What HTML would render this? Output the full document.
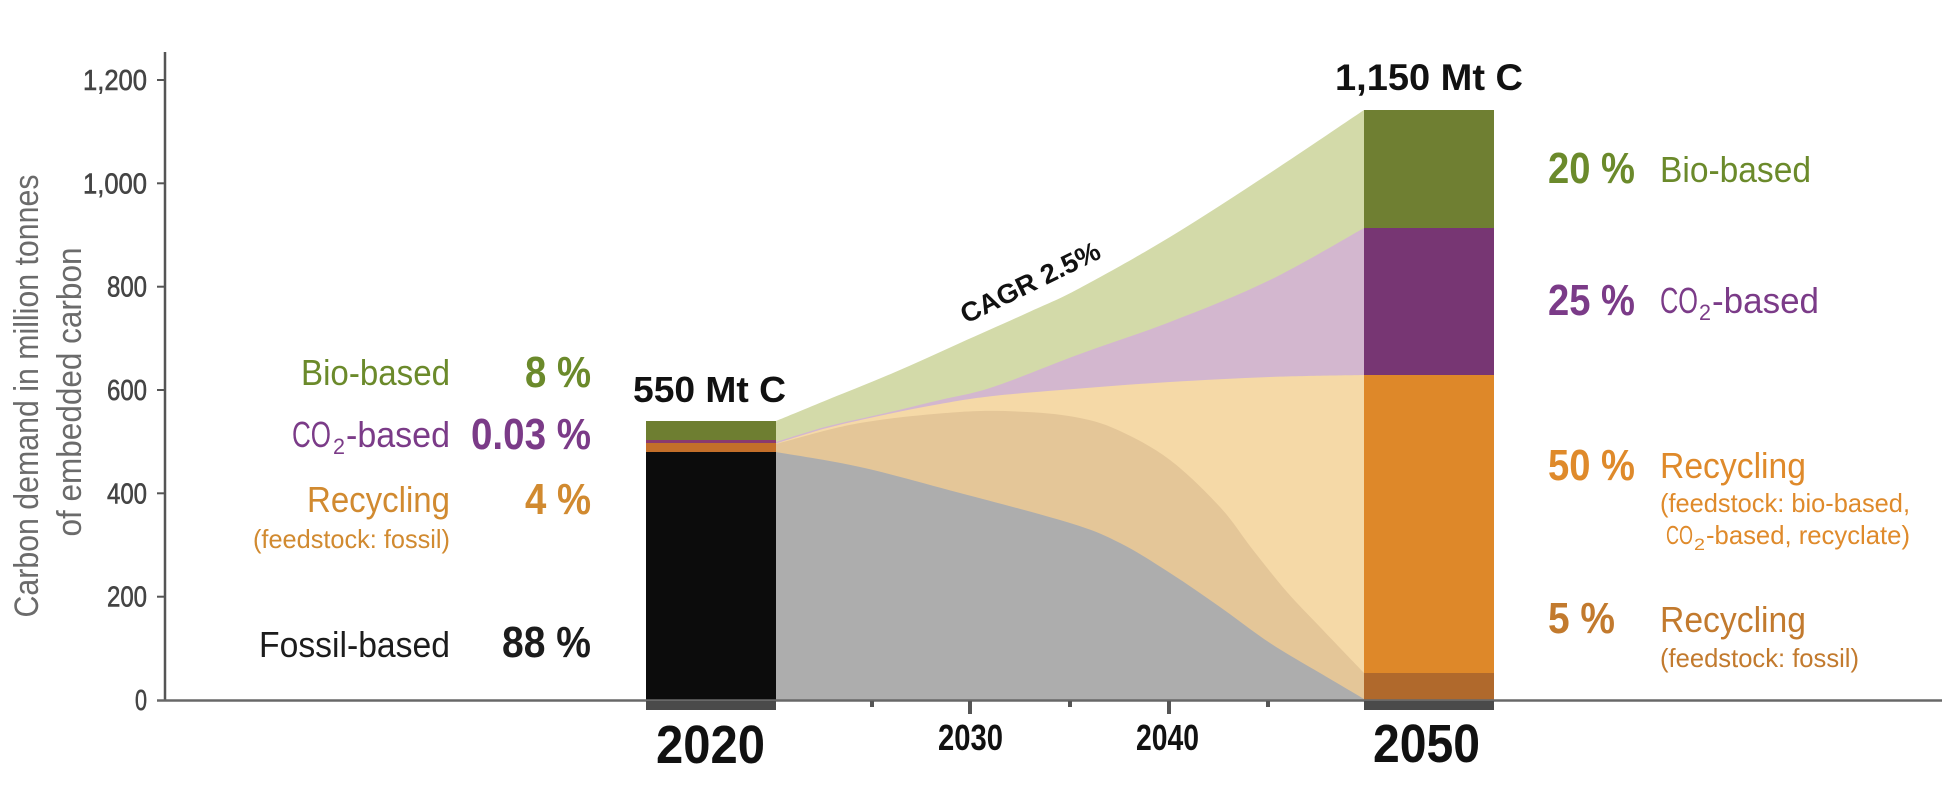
<!DOCTYPE html>
<html>
<head>
<meta charset="utf-8">
<style>
  html, body { margin: 0; padding: 0; background: #ffffff; }
  svg { display: block; }
  text { font-family: "Liberation Sans", Arial, sans-serif; }
</style>
</head>
<body>
<svg width="1956" height="798" viewBox="0 0 1956 798" xmlns="http://www.w3.org/2000/svg">
  <rect x="0" y="0" width="1956" height="798" fill="#ffffff"/>

  <!-- Flows -->
  <path fill="#d3daa9" d="M776,421 C784.5,417.5 807.5,408 827,400 C846.5,392 870.8,382.5 893,373 C915.2,363.5 937.7,353 960,343 C982.3,333 1007,322.2 1027,313 C1047,303.8 1056.2,300.7 1080,288 C1103.8,275.3 1138.3,256.2 1170,237 C1201.7,217.8 1237.7,194.2 1270,173 C1302.3,151.8 1348.3,120.5 1364,110 L1364,700 L776,700 Z"/>
  <path fill="#d3b7cf" d="M776,442 C784.5,439.4 808.7,431.3 827,426.5 C845.3,421.7 867.2,417.4 886,413 C904.8,408.6 922.2,404.3 940,400 C957.8,395.7 969.7,394.7 993,387 C1016.3,379.3 1050.5,364.8 1080,354 C1109.5,343.2 1138.3,334.3 1170,322 C1201.7,309.7 1237.7,295.7 1270,280 C1302.3,264.3 1348.3,236.7 1364,228 L1364,700 L776,700 Z"/>
  <path fill="#f5d9a7" d="M776,443.5 C784.5,440.9 808.7,432.8 827,428 C845.3,423.2 867.2,418.5 886,414.5 C904.8,410.5 922.2,407.1 940,404 C957.8,400.9 969.7,398.6 993,396 C1016.3,393.4 1050.5,390.8 1080,388.5 C1109.5,386.2 1138.3,383.9 1170,382 C1201.7,380.1 1237.7,378.2 1270,377 C1302.3,375.8 1348.3,375.3 1364,375 L1364,700 L776,700 Z"/>
  <path fill="#e4c698" d="M776,444 C790,440.5 829.3,428.3 860,423 C890.7,417.7 932.2,413.8 960,412 C987.8,410.2 1007,411 1027,412 C1047,413 1064.5,414.8 1080,418 C1095.5,421.2 1105,424 1120,431 C1135,438 1153.3,447.3 1170,460 C1186.7,472.7 1206.2,492 1220,507 C1233.8,522 1241.8,535.8 1253,550 C1264.2,564.2 1275.8,579.2 1287,592 C1298.2,604.8 1307.2,613.5 1320,627 C1332.8,640.5 1356.7,665.3 1364,673 L1364,700 L776,700 Z"/>
  <path fill="#adadad" d="M776,452 C790,454.5 829.3,460.2 860,467 C890.7,473.8 925,483.7 960,493 C995,502.3 1043.3,514.7 1070,523 C1096.7,531.3 1103.3,534.7 1120,543 C1136.7,551.3 1153.3,562.3 1170,573 C1186.7,583.7 1203.3,595.3 1220,607 C1236.7,618.7 1253.3,632 1270,643 C1286.7,654 1304.3,663.8 1320,673 C1335.7,682.2 1356.7,694.7 1364,699 L1364,700 L776,700 Z"/>

  <!-- Bars 2020 -->
  <rect x="646" y="421" width="130" height="19" fill="#6e7e31"/>
  <rect x="646" y="440" width="130" height="3" fill="#8a3a6e"/>
  <rect x="646" y="443" width="130" height="9" fill="#c36f2a"/>
  <rect x="646" y="452" width="130" height="248" fill="#0c0c0c"/>

  <!-- Bars 2050 -->
  <rect x="1364" y="110" width="130" height="118" fill="#6f7f32"/>
  <rect x="1364" y="228" width="130" height="147" fill="#773673"/>
  <rect x="1364" y="375" width="130" height="298" fill="#de8829"/>
  <rect x="1364" y="673" width="130" height="27" fill="#b0692c"/>

  <!-- Axes -->
  <line x1="165" y1="52" x2="165" y2="701" stroke="#555555" stroke-width="2.5"/>
  <line x1="157" y1="700.5" x2="1942" y2="700.5" stroke="#686868" stroke-width="2.5"/>

  <g stroke="#555555" stroke-width="2">
    <line x1="157" y1="80" x2="165" y2="80"/>
    <line x1="157" y1="183.3" x2="165" y2="183.3"/>
    <line x1="157" y1="286.7" x2="165" y2="286.7"/>
    <line x1="157" y1="390" x2="165" y2="390"/>
    <line x1="157" y1="493.3" x2="165" y2="493.3"/>
    <line x1="157" y1="596.7" x2="165" y2="596.7"/>
  </g>

  <rect x="646" y="701" width="130" height="9" fill="#4a4a4a"/>
  <rect x="1364" y="701" width="130" height="9" fill="#4a4a4a"/>

  <g fill="#555555">
    <rect x="870" y="701" width="4" height="6"/>
    <rect x="968" y="701" width="4" height="13"/>
    <rect x="1068" y="701" width="4" height="6"/>
    <rect x="1167" y="701" width="4" height="13"/>
    <rect x="1266" y="701" width="4" height="6"/>
  </g>

  <!-- y tick labels -->
  <g font-size="29" fill="#444444" stroke="#444444" stroke-width="0.6">
    <text x="83" y="90" textLength="64" lengthAdjust="spacingAndGlyphs">1,200</text>
    <text x="83" y="193.3" textLength="64" lengthAdjust="spacingAndGlyphs">1,000</text>
    <text x="107" y="296.7" textLength="40" lengthAdjust="spacingAndGlyphs">800</text>
    <text x="107" y="400" textLength="40" lengthAdjust="spacingAndGlyphs">600</text>
    <text x="107" y="503.3" textLength="40" lengthAdjust="spacingAndGlyphs">400</text>
    <text x="107" y="606.7" textLength="40" lengthAdjust="spacingAndGlyphs">200</text>
    <text x="135" y="710" textLength="12" lengthAdjust="spacingAndGlyphs">0</text>
  </g>

  <!-- y axis title -->
  <text transform="translate(38,396) rotate(-90)" text-anchor="middle" font-size="34" fill="#6b6b6b" textLength="443" lengthAdjust="spacingAndGlyphs">Carbon demand in million tonnes</text>
  <text transform="translate(81,392) rotate(-90)" text-anchor="middle" font-size="34" fill="#6b6b6b" textLength="289" lengthAdjust="spacingAndGlyphs">of embedded carbon</text>

  <!-- x year labels -->
  <text x="656" y="763" font-size="54" font-weight="bold" fill="#111111" textLength="109" lengthAdjust="spacingAndGlyphs">2020</text>
  <text x="938" y="750" font-size="36" font-weight="bold" fill="#111111" textLength="65" lengthAdjust="spacingAndGlyphs">2030</text>
  <text x="1136" y="750" font-size="36" font-weight="bold" fill="#111111" textLength="63" lengthAdjust="spacingAndGlyphs">2040</text>
  <text x="1373" y="762" font-size="54" font-weight="bold" fill="#111111" textLength="107" lengthAdjust="spacingAndGlyphs">2050</text>

  <!-- totals -->
  <text x="633" y="402" font-size="36" font-weight="bold" fill="#111111" textLength="153" lengthAdjust="spacingAndGlyphs">550 Mt C</text>
  <text x="1335" y="90" font-size="37" font-weight="bold" fill="#111111" textLength="188" lengthAdjust="spacingAndGlyphs">1,150 Mt C</text>

  <!-- CAGR -->
  <text transform="translate(966,324) rotate(-26)" font-size="27" font-weight="bold" fill="#111111" textLength="152" lengthAdjust="spacingAndGlyphs">CAGR 2.5%</text>

  <!-- Left labels -->
  <text x="301" y="385" font-size="36" fill="#6b8a2b" textLength="149" lengthAdjust="spacingAndGlyphs">Bio-based</text>
  <text x="525" y="387" font-size="44" font-weight="bold" fill="#6b8a2b" textLength="66" lengthAdjust="spacingAndGlyphs">8 %</text>

  <text x="292" y="447" font-size="36" fill="#7b3b88" textLength="39" lengthAdjust="spacingAndGlyphs">CO</text>
  <text x="333" y="454" font-size="22" fill="#7b3b88" textLength="12" lengthAdjust="spacingAndGlyphs">2</text>
  <text x="346" y="447" font-size="36" fill="#7b3b88" textLength="104" lengthAdjust="spacingAndGlyphs">-based</text>
  <text x="471" y="449" font-size="44" font-weight="bold" fill="#7b3b88" textLength="120" lengthAdjust="spacingAndGlyphs">0.03 %</text>

  <text x="307" y="512" font-size="36" fill="#d18a30" textLength="143" lengthAdjust="spacingAndGlyphs">Recycling</text>
  <text x="525" y="514" font-size="44" font-weight="bold" fill="#d18a30" textLength="66" lengthAdjust="spacingAndGlyphs">4 %</text>
  <text x="253" y="548" font-size="26" fill="#d18a30" textLength="197" lengthAdjust="spacingAndGlyphs">(feedstock: fossil)</text>

  <text x="259" y="657" font-size="36" fill="#1c1c1c" textLength="191" lengthAdjust="spacingAndGlyphs">Fossil-based</text>
  <text x="502" y="657" font-size="44" font-weight="bold" fill="#1c1c1c" textLength="89" lengthAdjust="spacingAndGlyphs">88 %</text>

  <!-- Right labels -->
  <text x="1548" y="183" font-size="44" font-weight="bold" fill="#6b8a2b" textLength="87" lengthAdjust="spacingAndGlyphs">20 %</text>
  <text x="1660" y="182" font-size="36" fill="#6b8a2b" textLength="151" lengthAdjust="spacingAndGlyphs">Bio-based</text>

  <text x="1548" y="315" font-size="44" font-weight="bold" fill="#7b3b88" textLength="87" lengthAdjust="spacingAndGlyphs">25 %</text>
  <text x="1660" y="313" font-size="36" fill="#7b3b88" textLength="38" lengthAdjust="spacingAndGlyphs">CO</text>
  <text x="1699" y="320" font-size="22" fill="#7b3b88" textLength="12" lengthAdjust="spacingAndGlyphs">2</text>
  <text x="1712" y="313" font-size="36" fill="#7b3b88" textLength="107" lengthAdjust="spacingAndGlyphs">-based</text>

  <text x="1548" y="480" font-size="44" font-weight="bold" fill="#df8a2b" textLength="87" lengthAdjust="spacingAndGlyphs">50 %</text>
  <text x="1660" y="478" font-size="36" fill="#df8a2b" textLength="146" lengthAdjust="spacingAndGlyphs">Recycling</text>
  <text x="1660" y="512" font-size="26" fill="#df8a2b" textLength="250" lengthAdjust="spacingAndGlyphs">(feedstock: bio-based,</text>
  <text x="1666" y="544" font-size="26" fill="#df8a2b" textLength="27" lengthAdjust="spacingAndGlyphs">CO</text>
  <text x="1694" y="550" font-size="17" fill="#df8a2b" textLength="11" lengthAdjust="spacingAndGlyphs">2</text>
  <text x="1706" y="544" font-size="26" fill="#df8a2b" textLength="204" lengthAdjust="spacingAndGlyphs">-based, recyclate)</text>

  <text x="1548" y="633" font-size="44" font-weight="bold" fill="#c27a2e" textLength="67" lengthAdjust="spacingAndGlyphs">5 %</text>
  <text x="1660" y="632" font-size="36" fill="#c27a2e" textLength="146" lengthAdjust="spacingAndGlyphs">Recycling</text>
  <text x="1660" y="667" font-size="26" fill="#c27a2e" textLength="199" lengthAdjust="spacingAndGlyphs">(feedstock: fossil)</text>
</svg>
</body>
</html>
